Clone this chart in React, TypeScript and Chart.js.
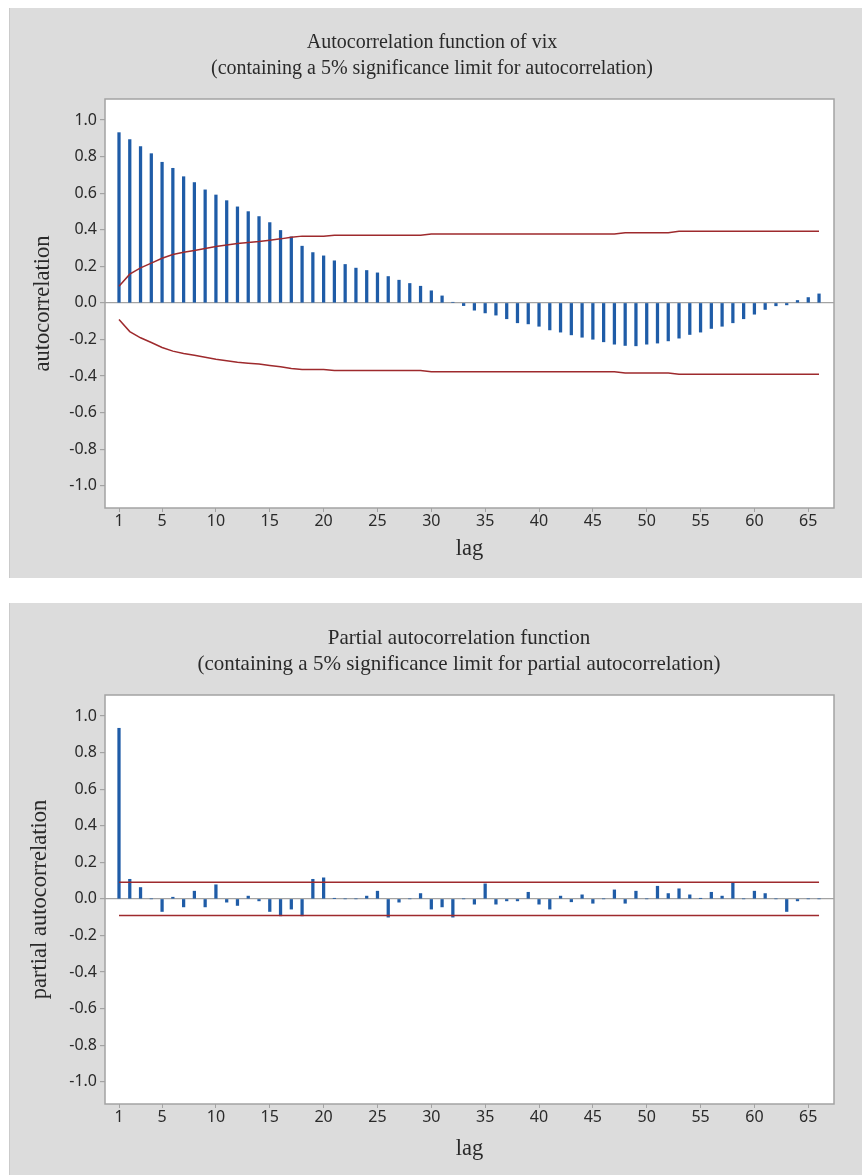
import React, { useEffect, useRef } from "react";
import { Chart, registerables } from "chart.js";

Chart.register(...registerables);

const LAGS = [
  1, 2, 3, 4, 5, 6, 7, 8, 9, 10, 11, 12, 13, 14, 15, 16, 17, 18, 19, 20, 21, 22,
  23, 24, 25, 26, 27, 28, 29, 30, 31, 32, 33, 34, 35, 36, 37, 38, 39, 40, 41, 42,
  43, 44, 45, 46, 47, 48, 49, 50, 51, 52, 53, 54, 55, 56, 57, 58, 59, 60, 61, 62,
  63, 64, 65, 66,
];

const ACF = [
  0.931, 0.893, 0.855, 0.816, 0.769, 0.736, 0.69, 0.658, 0.618, 0.59,
  0.559, 0.525, 0.499, 0.472, 0.439, 0.396, 0.361, 0.31, 0.275, 0.257,
  0.23, 0.21, 0.19, 0.177, 0.164, 0.144, 0.124, 0.106, 0.091, 0.066,
  0.038, 0.003, -0.015, -0.04, -0.055, -0.067, -0.087, -0.109, -0.115, -0.128,
  -0.148, -0.16, -0.175, -0.188, -0.199, -0.213, -0.226, -0.233, -0.235, -0.226,
  -0.22, -0.208, -0.193, -0.173, -0.16, -0.14, -0.128, -0.109, -0.087, -0.062,
  -0.036, -0.016, -0.011, 0.013, 0.029, 0.049,
];

const ACF_LIMIT = [
  0.091, 0.157, 0.191, 0.217, 0.244, 0.264, 0.277, 0.286, 0.297, 0.308,
  0.317, 0.325, 0.33, 0.335, 0.343, 0.35, 0.359, 0.365, 0.365, 0.365,
  0.37, 0.37, 0.37, 0.37, 0.37, 0.37, 0.37, 0.37, 0.37, 0.377,
  0.377, 0.377, 0.377, 0.377, 0.377, 0.377, 0.377, 0.377, 0.377, 0.377,
  0.377, 0.377, 0.377, 0.377, 0.377, 0.377, 0.377, 0.384, 0.384, 0.384,
  0.384, 0.384, 0.391, 0.391, 0.391, 0.391, 0.391, 0.391, 0.391, 0.391,
  0.391, 0.391, 0.391, 0.391, 0.391, 0.391,
];

const PACF = [
  0.933, 0.107, 0.062, 0.0, -0.069, 0.009, -0.044, 0.042, -0.044, 0.077,
  -0.018, -0.036, 0.015, -0.011, -0.069, -0.093, -0.056, -0.093, 0.107, 0.115,
  0.002, 0.0, 0.0, 0.015, 0.042, -0.1, -0.018, 0.0, 0.029, -0.056,
  -0.044, -0.1, 0.0, -0.029, 0.082, -0.029, -0.011, -0.011, 0.036, -0.029,
  -0.056, 0.015, -0.016, 0.022, -0.024, 0.0, 0.049, -0.024, 0.042, 0.0,
  0.069, 0.029, 0.055, 0.022, 0.002, 0.036, 0.015, 0.089, 0.0, 0.042,
  0.029, 0.0, -0.069, -0.011, 0.0, 0.0,
];

const PACF_LIMIT = 0.091;

const X_TICKS = [1, 5, 10, 15, 20, 25, 30, 35, 40, 45, 50, 55, 60, 65];
const Y_TICKS = [-1.0, -0.8, -0.6, -0.4, -0.2, 0.0, 0.2, 0.4, 0.6, 0.8, 1.0];

const ACF_TITLE = [
  "Autocorrelation function of vix",
  "(containing a 5% significance limit for autocorrelation)",
];
const PACF_TITLE = [
  "Partial autocorrelation function",
  "(containing a 5% significance limit for partial autocorrelation)",
];

const BAR_COLOR = "#1f5ca7";
const LIMIT_COLOR = "#9e2a2d";
const AXIS_GRAY = "#a3a3a3";
const TEXT_COLOR = "#2a2a2a";
const SERIF = "'Liberation Serif', 'Times New Roman', serif";
const SANS = "'Noto Sans', 'Open Sans', sans-serif";

const plotBoxPlugin = {
  id: "plotBox",
  beforeDraw(chart: any) {
    const { ctx, chartArea: a } = chart;
    ctx.save();
    ctx.fillStyle = "#ffffff";
    ctx.fillRect(a.left, a.top, a.right - a.left, a.bottom - a.top);
    ctx.restore();
  },
  afterDraw(chart: any) {
    const { ctx, chartArea: a } = chart;
    ctx.save();
    ctx.strokeStyle = AXIS_GRAY;
    ctx.lineWidth = 1.5;
    ctx.strokeRect(a.left, a.top, a.right - a.left, a.bottom - a.top);
    ctx.restore();
  },
};

const titleLinesPlugin = {
  id: "titleLines",
  afterDraw(chart: any, _args: any, opts: any) {
    if (!opts || !opts.lines) return;
    const { ctx } = chart;
    ctx.save();
    ctx.fillStyle = TEXT_COLOR;
    ctx.font = `${opts.size}px ${SERIF}`;
    ctx.textAlign = "center";
    ctx.textBaseline = "middle";
    opts.lines.forEach((line: string, i: number) => {
      ctx.fillText(line, opts.cx, opts.y + i * opts.gap);
    });
    ctx.restore();
  },
};

type PanelProps = {
  values: number[];
  upper: number[];
  lower: number[];
  limitLags: number[];
  title: string[];
  titleCx: number;
  titleSize: number;
  yLabel: string;
  width: number;
  height: number;
  padTop: number;
  xAxisHeight: number;
  xTitlePad: number;
  yTitlePad: number;
};

function CorrelogramPanel(p: PanelProps) {
  const ref = useRef<HTMLCanvasElement | null>(null);

  useEffect(() => {
    if (!ref.current) return;
    const tickFont = { family: SANS, size: 16 };
    const axisTitleFont = { family: SERIF, size: 22.5 };
    const chart = new Chart(ref.current, {
      type: "bar",
      data: {
        datasets: [
          {
            type: "bar",
            data: LAGS.map((l, i) => ({ x: l, y: p.values[i] })),
            backgroundColor: BAR_COLOR,
            borderWidth: 0,
            barThickness: 2.6,
            order: 2,
          } as any,
          {
            type: "line",
            data: p.limitLags.map((l, i) => ({ x: l, y: p.upper[i] })),
            borderColor: LIMIT_COLOR,
            borderWidth: 1.5,
            pointRadius: 0,
            tension: 0,
            fill: false,
            order: 1,
          } as any,
          {
            type: "line",
            data: p.limitLags.map((l, i) => ({ x: l, y: p.lower[i] })),
            borderColor: LIMIT_COLOR,
            borderWidth: 1.5,
            pointRadius: 0,
            tension: 0,
            fill: false,
            order: 1,
          } as any,
        ],
      },
      options: {
        animation: false,
        responsive: false,
        devicePixelRatio: 1,
        events: [],
        layout: { padding: { top: p.padTop, right: 29, left: 0, bottom: 0 } },
        plugins: {
          legend: { display: false },
          title: { display: false },
          tooltip: { enabled: false },
          titleLines: {
            lines: p.title,
            cx: p.titleCx,
            y: 35,
            gap: 26,
            size: p.titleSize,
          },
        } as any,
        scales: {
          x: {
            type: "linear",
            min: -0.3,
            max: 67.39,
            offset: false,
            afterBuildTicks: (s: any) => {
              s.ticks = X_TICKS.map((v) => ({ value: v }));
            },
            afterFit: (s: any) => {
              s.height = p.xAxisHeight;
            },
            ticks: {
              font: tickFont,
              color: TEXT_COLOR,
              padding: 0,
              maxRotation: 0,
              autoSkip: false,
              callback: (v: any) => String(v),
            },
            grid: {
              display: true,
              drawOnChartArea: false,
              offset: false,
              tickColor: AXIS_GRAY,
              tickLength: 4,
            },
            border: { display: false },
            title: {
              display: true,
              text: "lag",
              font: axisTitleFont,
              color: TEXT_COLOR,
              padding: { top: 0, bottom: p.xTitlePad },
            },
          },
          y: {
            type: "linear",
            min: -1.122,
            max: 1.115,
            afterBuildTicks: (s: any) => {
              s.ticks = Y_TICKS.map((v) => ({ value: v }));
            },
            afterFit: (s: any) => {
              s.width = 95;
            },
            ticks: {
              font: tickFont,
              color: TEXT_COLOR,
              padding: 3,
              callback: (v: any) => Number(v).toFixed(1),
            },
            grid: {
              display: true,
              drawOnChartArea: true,
              color: (ctx: any) =>
                ctx.tick && Math.abs(ctx.tick.value) < 1e-9 ? AXIS_GRAY : "rgba(0,0,0,0)",
              tickColor: AXIS_GRAY,
              tickLength: 5,
              lineWidth: 1.2,
            },
            border: { display: false },
            title: {
              display: true,
              text: p.yLabel,
              font: axisTitleFont,
              color: TEXT_COLOR,
              padding: { top: p.yTitlePad, bottom: 0 },
            },
          },
        },
      } as any,
      plugins: [plotBoxPlugin, titleLinesPlugin],
    });
    return () => chart.destroy();
  }, []);

  return (
    <canvas
      ref={ref}
      width={p.width}
      height={p.height}
      style={{ display: "block", width: p.width, height: p.height }}
    />
  );
}

export default function App() {
  const panelStyle = (top: number, height: number): React.CSSProperties => ({
    position: "absolute",
    left: 9,
    top,
    width: 853,
    height,
    background: "#dcdcdc",
    boxSizing: "border-box",
    borderLeft: "1px solid #cbcbcb",
    overflow: "hidden",
  });
  return (
    <div style={{ position: "absolute", left: 0, top: 0, width: 862, height: 1175, overflow: "hidden" }}>
      <div style={panelStyle(8, 570)}>
        <CorrelogramPanel
          values={ACF}
          upper={ACF_LIMIT}
          lower={ACF_LIMIT.map((v) => -v)}
          limitLags={LAGS}
          title={ACF_TITLE}
          titleCx={422}
          titleSize={20}
          yLabel="autocorrelation"
          width={853}
          height={570}
          padTop={91}
          xAxisHeight={70}
          xTitlePad={15}
          yTitlePad={20}
        />
      </div>
      <div style={panelStyle(603, 572)}>
        <CorrelogramPanel
          values={PACF}
          upper={[PACF_LIMIT, PACF_LIMIT]}
          lower={[-PACF_LIMIT, -PACF_LIMIT]}
          limitLags={[LAGS[0], LAGS[LAGS.length - 1]]}
          title={PACF_TITLE}
          titleCx={449}
          titleSize={21}
          yLabel="partial autocorrelation"
          width={853}
          height={572}
          padTop={92}
          xAxisHeight={71}
          xTitlePad={12}
          yTitlePad={17}
        />
      </div>
    </div>
  );
}
